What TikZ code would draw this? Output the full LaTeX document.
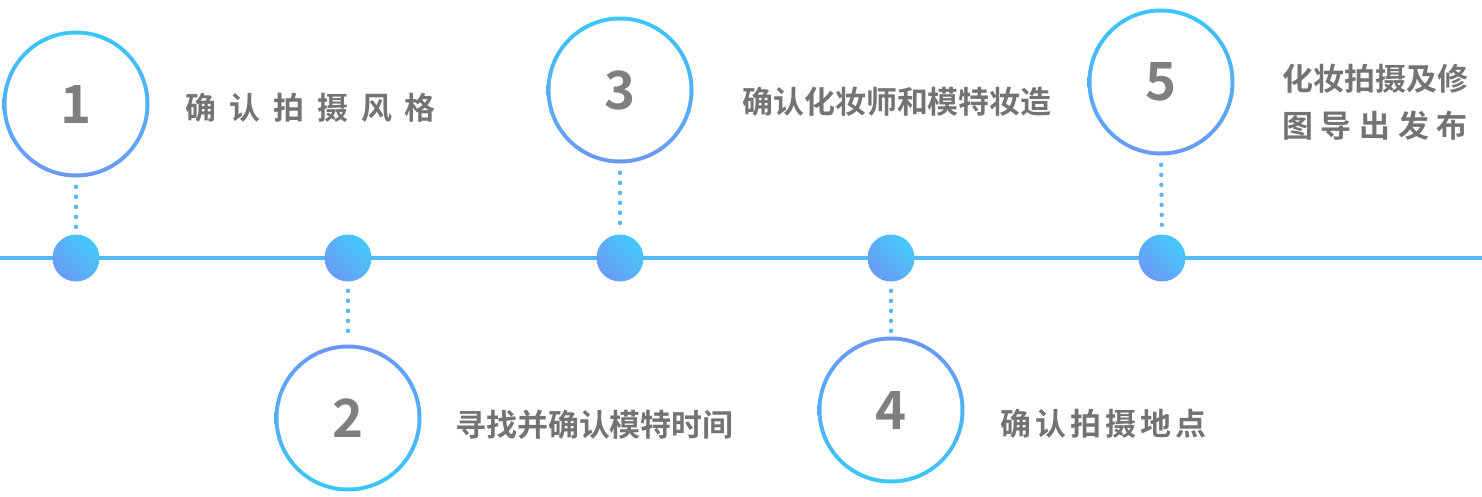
\documentclass[tikz,border=0pt]{standalone}
\usepackage{fontspec}
\usepackage{tikz}
\usetikzlibrary{positioning, backgrounds}
\newfontfamily\cjk{Noto Sans CJK SC}[BoldFont={Noto Sans CJK SC Bold}]
\definecolor{LineBlue}{HTML}{55B9F6}
\definecolor{RingCyan}{HTML}{38C8FA}
\definecolor{RingBlue}{HTML}{6A98F4}
\definecolor{DotBlue}{HTML}{6B9AF5}
\definecolor{DotCyan}{HTML}{45C9F9}
\definecolor{StepGray}{HTML}{737373}
\definecolor{NumGray}{HTML}{7F7F7F}

\tikzset{
  ring/.style={circle, minimum size=2.94cm, inner sep=0pt, text=NumGray,
    font=\cjk\bfseries\fontsize{30}{30}\selectfont,
    path picture={\fill[white] (path picture bounding box.center) circle (1.39cm);}},
  ringdown/.style={ring, top color=RingCyan, bottom color=RingBlue},
  ringup/.style={ring, top color=RingBlue, bottom color=RingCyan},
  dotnode/.style={circle, minimum size=0.94cm, inner sep=0pt,
    bottom color=DotBlue, top color=DotCyan, shading angle=-45},
  steptext/.style={anchor=west, inner sep=0pt, text=StepGray,
    font=\cjk\bfseries\fontsize{17.6}{27}\selectfont},
  linkdots/.style={draw=LineBlue, line width=0.09cm, line cap=round,
    dash pattern=on 0pt off 0.2cm, shorten <=0.18cm, shorten >=0.08cm},
}

\begin{document}
\begin{tikzpicture}
  \useasboundingbox (0,0) rectangle (29.64,9.92);

  % Timeline dots
  \node[dotnode] (d1) at (1.52,4.76) {};
  \node[dotnode] (d2) at (6.96,4.76) {};
  \node[dotnode] (d3) at (12.40,4.76) {};
  \node[dotnode] (d4) at (17.82,4.76) {};
  \node[dotnode] (d5) at (23.24,4.76) {};

  % Step circles
  \node[ringdown] (c1) at (1.52,7.84) {1};
  \node[ringup]   (c2) at (6.96,1.56) {2};
  \node[ringdown] (c3) at (12.40,8.12) {3};
  \node[ringup]   (c4) at (17.82,1.72) {4};
  \node[ringdown] (c5) at (23.22,8.28) {5};

  % Step labels
  \node[steptext, font=\cjk\bfseries\fontsize{17.6}{27}\selectfont\addfontfeature{LetterSpace=42}] (t1) at (3.70,7.76) {确认拍摄风格};
  \node[steptext] (t2) at (9.10,1.42) {寻找并确认模特时间};
  \node[steptext] (t3) at (14.84,7.88) {确认化妆师和模特妆造};
  \node[steptext, font=\cjk\bfseries\fontsize{17.6}{27}\selectfont\addfontfeature{LetterSpace=13}] (t4) at (20.00,1.44) {确认拍摄地点};
  \node[steptext, align=left] (t5) at (25.64,7.88) {化妆拍摄及修\\{\addfontfeature{LetterSpace=25}图导出发布}};

  % Axis and dotted links
  \coordinate (lineL) at (0,4.76);
  \coordinate (lineR) at (29.64,4.76);
  \begin{scope}[on background layer]
    \draw[LineBlue, line width=0.08cm] (lineL) -- (lineR);
    \draw[linkdots] (c1.south) -- (d1.north);
    \draw[linkdots] (d2.south) -- (c2.north);
    \draw[linkdots] (c3.south) -- (d3.north);
    \draw[linkdots] (d4.south) -- (c4.north);
    \draw[linkdots] (c5.south) -- (d5.north);
  \end{scope}
\end{tikzpicture}
\end{document}
